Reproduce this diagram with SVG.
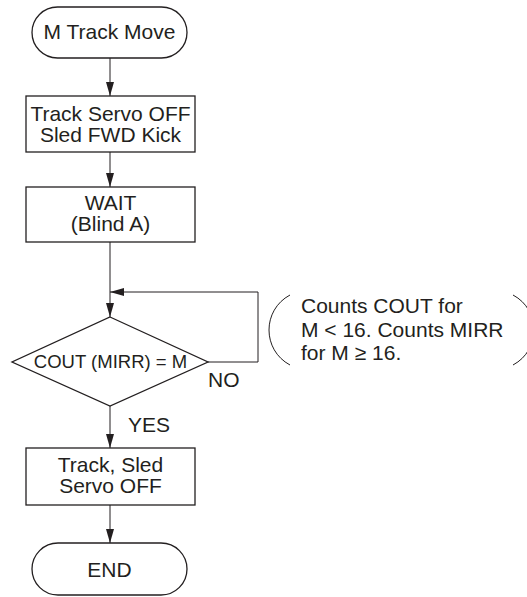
<svg xmlns="http://www.w3.org/2000/svg" width="527" height="597" viewBox="0 0 527 597">
<defs>
<marker id="arr" markerWidth="14" markerHeight="8" refX="14" refY="4" orient="auto" markerUnits="userSpaceOnUse">
<path d="M0,0 L14,4 L0,8 z" fill="#231f20"/>
</marker>
<style>
.shape{fill:#fff;stroke:#231f20;stroke-width:1.3}
.line{fill:none;stroke:#231f20;stroke-width:1}
text{font-family:"Liberation Sans",Arial,sans-serif;font-size:21px;fill:#231f20}
.c{text-anchor:middle}
</style>
</defs>
<rect width="527" height="597" fill="#fff"/>
<g id="connectors">
<path class="line" d="M110,58 V96" marker-end="url(#arr)"/>
<path class="line" d="M110,152 V187" marker-end="url(#arr)"/>
<path class="line" d="M110,242 V317" marker-end="url(#arr)"/>
<path class="line" d="M208,362 H258 V292 H110" marker-end="url(#arr)"/>
<path class="line" d="M110,406 V448" marker-end="url(#arr)"/>
<path class="line" d="M110,505 V543" marker-end="url(#arr)"/>
<text x="208" y="387">NO</text>
<text x="128" y="432">YES</text>
</g>
<g id="start">
<rect class="shape" x="32" y="7" width="155" height="51" rx="25.5"/>
<text class="c" x="109.5" y="38.5">M Track Move</text>
</g>
<g id="kick">
<rect class="shape" x="26" y="96" width="169" height="56"/>
<text class="c" x="110.5" y="120.5">Track Servo OFF</text>
<text class="c" x="110.5" y="141.5">Sled FWD Kick</text>
</g>
<g id="wait">
<rect class="shape" x="26" y="187" width="169" height="55"/>
<text class="c" x="110.5" y="210">WAIT</text>
<text class="c" x="110.5" y="231">(Blind A)</text>
</g>
<g id="decision">
<polygon class="shape" points="110,317 208,362 110,406 12,362"/>
<text class="c" x="110.5" y="368" style="font-size:18.5px">COUT (MIRR) = M</text>
</g>
<g id="servo-off">
<rect class="shape" x="26" y="448" width="169" height="57"/>
<text class="c" x="110.5" y="472">Track, Sled</text>
<text class="c" x="110.5" y="493">Servo OFF</text>
</g>
<g id="end">
<rect class="shape" x="32" y="543" width="155" height="52" rx="26"/>
<text class="c" x="109.5" y="577">END</text>
</g>
<g id="note">
<path class="line" d="M290,295 C262,310 262,350 290,365"/>
<path class="line" d="M513,295 C541,310 541,350 513,365"/>
<text x="301" y="313">Counts COUT for</text>
<text x="301" y="337">M &lt; 16. Counts MIRR</text>
<text x="301" y="360">for M ≥ 16.</text>
</g>
</svg>
